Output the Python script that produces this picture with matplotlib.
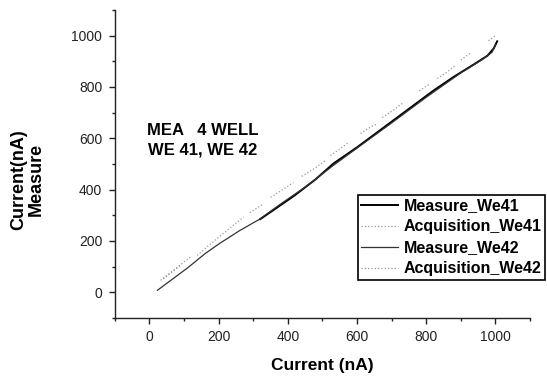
import numpy as np
import matplotlib.pyplot as plt
from matplotlib.ticker import MultipleLocator

plt.rcParams['font.family'] = ['Liberation Sans', 'DejaVu Sans']

x_meas41 = [320, 360, 420, 480, 532, 600, 680, 760, 821, 880, 940, 977, 995, 1005]
y_meas41 = [285, 322, 378, 440, 502, 565, 645, 725, 786, 840, 890, 922, 950, 978]

x_meas42 = [23, 60, 110, 160, 200, 260, 316, 380, 450, 532, 610, 700, 800, 900, 960, 990, 1000]
y_meas42 = [8, 45, 95, 150, 188, 240, 283, 345, 410, 495, 572, 660, 760, 855, 905, 935, 965]

# Acquisition points, with gaps where no points were recorded
x_acq41 = [32, 75, 118, np.nan, 138, 200, 272, np.nan, 350, 385, 416, np.nan,
           523, 550, 575, np.nan, 673, 705, 734, np.nan, 832, 860, 884, np.nan, 980, 1000]
y_acq41 = [47, 92, 137, np.nan, 144, 215, 293, np.nan, 370, 400, 428, np.nan,
           533, 558, 584, np.nan, 681, 710, 739, np.nan, 833, 858, 883, np.nan, 980, 1000]

x_acq42 = [40, 90, np.nan, 290, 330, np.nan, 440, 480, 510, np.nan, 610, 640, 659,
           np.nan, 780, 810, np.nan, 900, 915, 930]
y_acq42 = [52, 105, np.nan, 310, 345, np.nan, 452, 485, 515, np.nan, 619, 645, 657,
           np.nan, 785, 812, np.nan, 905, 920, 935]

fig = plt.figure(figsize=(5.47, 3.77), dpi=100)
ax = fig.add_axes([0.210, 0.1565, 0.759, 0.817])

ax.plot(x_meas41, y_meas41, color='black', lw=1.4, label='Measure_We41')
ax.plot(x_acq41, y_acq41, color='#999999', lw=0.9, ls=':', label='Acquisition_We41')
ax.plot(x_meas42, y_meas42, color='#333333', lw=0.9, label='Measure_We42')
ax.plot(x_acq42, y_acq42, color='#999999', lw=0.9, ls=':', label='Acquisition_We42')

ax.set_xlim(-100, 1100)
ax.set_ylim(-100, 1100)
ax.xaxis.set_minor_locator(MultipleLocator(100))
ax.yaxis.set_minor_locator(MultipleLocator(100))
ax.set_xticks([0, 200, 400, 600, 800, 1000])
ax.set_yticks([0, 200, 400, 600, 800, 1000])

for side in ['top', 'right']:
    ax.spines[side].set_visible(False)
for side in ['left', 'bottom']:
    ax.spines[side].set_color('#222222')
    ax.spines[side].set_linewidth(1.0)

ax.tick_params(which='major', direction='out', length=4, width=1, labelsize=10, colors='#222222', pad=5)
ax.tick_params(which='minor', direction='out', length=2.5, width=1, colors='#222222')

ax.set_xlabel('Current (nA)', fontsize=12.5, fontweight='bold', labelpad=10)
fig.text(0.051, 0.523, 'Current(nA)\nMeasure', rotation=90, ha='center', va='center',
         fontsize=13, fontweight='bold', linespacing=1.05)

ax.text(153, 592, 'MEA   4 WELL\nWE 41, WE 42', ha='center', va='center',
        fontsize=12, fontweight='bold', linespacing=1.35)

leg = ax.legend(loc='upper left', bbox_to_anchor=(0.654, 0.483), bbox_transform=fig.transFigure,
                borderaxespad=0, fancybox=False, framealpha=1, edgecolor='black',
                prop={'weight': 'bold', 'size': 11.5}, handlelength=2.3, handletextpad=0.4,
                labelspacing=0.38, borderpad=0.2)
leg.get_frame().set_linewidth(1.2)

fig.savefig('out.png', dpi=100)
